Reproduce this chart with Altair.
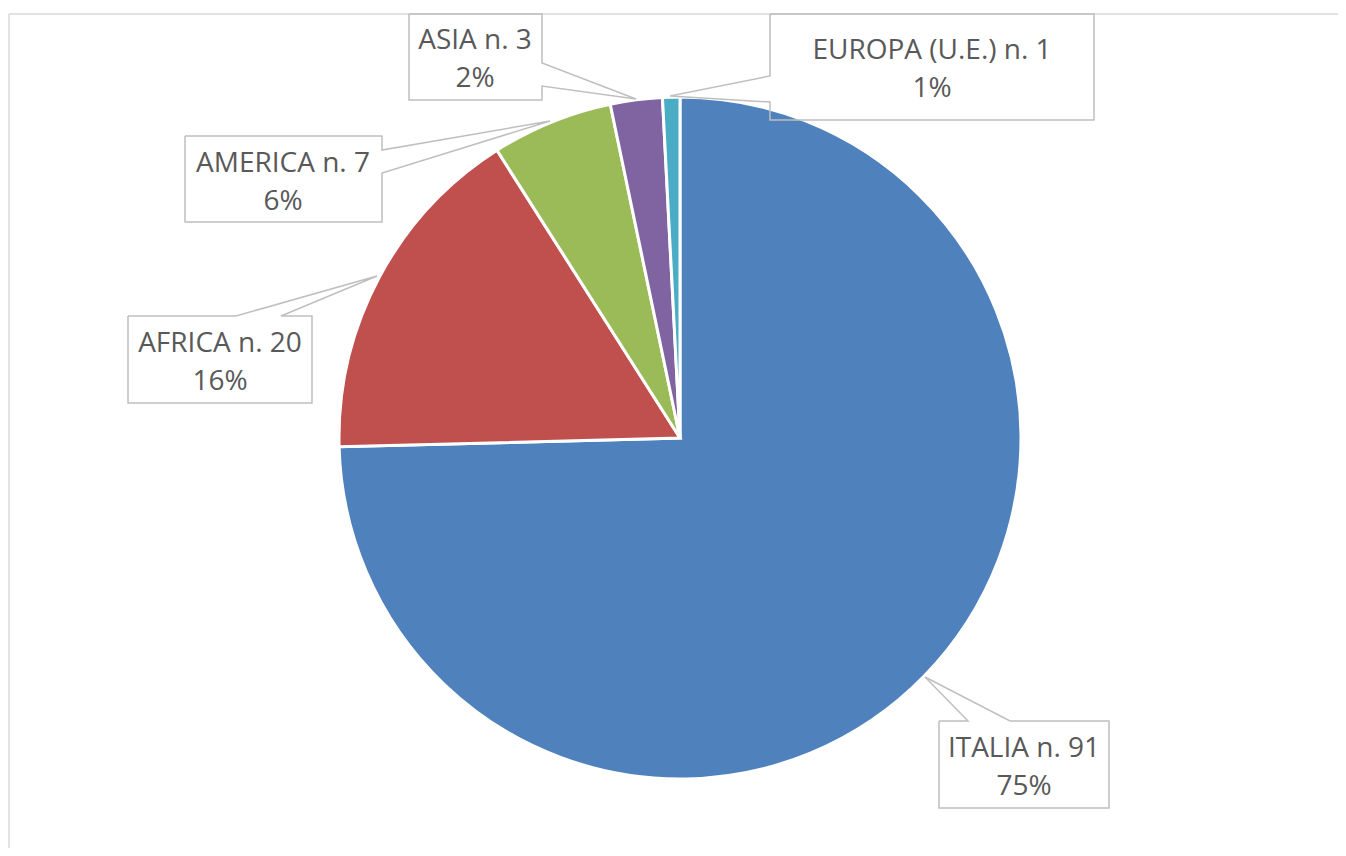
import altair as alt
import pandas as pd

# ---- data ----
categories = ["ITALIA", "AFRICA", "AMERICA", "ASIA", "EUROPA (U.E.)"]
counts = [91, 20, 7, 3, 1]
colors = ["#4F81BD", "#C0504D", "#9BBB59", "#8064A2", "#4BACC6"]

total = sum(counts)
pie_df = pd.DataFrame({
    "cat": categories,
    "n": counts,
    "idx": list(range(len(categories))),
})

# ---- layout (page coordinates, converted to chart coordinates below) ----
OFF = 8
PIE_CX, PIE_CY, PIE_R = 680, 438, 341
TEXT_COLOR = "#595959"
BOX_COLOR = "#BFBFBF"
FONT = "Open Sans"
FONT_SIZE = 28
LINE_GAP = 38

# label centre x and first-line baseline y
label_pos = {
    "ITALIA": (1024, 757),
    "AFRICA": (220, 352),
    "AMERICA": (283, 172),
    "ASIA": (475, 49),
    "EUROPA (U.E.)": (932, 59),
}
# callout outlines (box + pointer)
callouts = {
    "ITALIA": [(939, 721), (968, 721), (925, 677), (1010, 721), (1109, 721),
               (1109, 808), (939, 808), (939, 721)],
    "AFRICA": [(128, 316), (236, 316), (377, 276), (281, 316), (312, 316),
               (312, 403), (128, 403), (128, 316)],
    "AMERICA": [(185, 136), (382, 136), (382, 150), (550, 121), (382, 173),
                (382, 222), (185, 222), (185, 136)],
    "ASIA": [(409, 14), (542, 14), (542, 63), (636, 99), (542, 86),
             (542, 100), (409, 100), (409, 14)],
    "EUROPA (U.E.)": [(770, 14), (1094, 14), (1094, 120), (770, 120),
                      (770, 102), (670, 96), (770, 76), (770, 14)],
}

W, H = 1330, 840

# ---- build tables ----
rows = []
for cat, n in zip(categories, counts):
    cx, by = label_pos[cat]
    rows.append({
        "cat": cat,
        "line1": f"{cat} n. {n}",
        "line2": f"{round(100 * n / total)}%",
        "tx": cx - OFF,
        "ty1": by - OFF,
        "ty2": by - OFF + LINE_GAP,
    })
label_df = pd.DataFrame(rows)

pts = []
for cat, path in callouts.items():
    for i, (px, py) in enumerate(path):
        pts.append({"cat": cat, "i": i, "px": px - OFF, "py": py - OFF})
callout_df = pd.DataFrame(pts)

# ---- frame ----
frame_top = alt.Chart(pd.DataFrame({"a": [0]})).mark_rule(
    color="#D9D9D9", strokeWidth=1.5
).encode(x=alt.value(9 - OFF), x2=alt.value(W), y=alt.value(14 - OFF))
frame_left = alt.Chart(pd.DataFrame({"a": [0]})).mark_rule(
    color="#D9D9D9", strokeWidth=1.5
).encode(x=alt.value(9 - OFF), y=alt.value(14 - OFF), y2=alt.value(H))

# ---- pie ----
pie = alt.Chart(pie_df).mark_arc(
    outerRadius=PIE_R, stroke="white", strokeWidth=3
).encode(
    theta=alt.Theta("n:Q", stack=True),
    order=alt.Order("idx:Q"),
    color=alt.Color("cat:N", scale=alt.Scale(domain=categories, range=colors),
                    legend=None),
    x=alt.value(PIE_CX - OFF),
    y=alt.value(PIE_CY - OFF),
)

# ---- callouts ----
boxes = alt.Chart(callout_df).mark_line(
    color=BOX_COLOR, strokeWidth=1.5, strokeJoin="miter"
).encode(
    x=alt.X("px:Q", scale=None, axis=None),
    y=alt.Y("py:Q", scale=None, axis=None),
    detail="cat:N",
    order="i:Q",
)

text1 = alt.Chart(label_df).mark_text(
    font=FONT, fontSize=FONT_SIZE, color=TEXT_COLOR, align="center",
    baseline="alphabetic"
).encode(
    x=alt.X("tx:Q", scale=None, axis=None),
    y=alt.Y("ty1:Q", scale=None, axis=None),
    text="line1:N",
)
text2 = alt.Chart(label_df).mark_text(
    font=FONT, fontSize=FONT_SIZE, color=TEXT_COLOR, align="center",
    baseline="alphabetic"
).encode(
    x=alt.X("tx:Q", scale=None, axis=None),
    y=alt.Y("ty2:Q", scale=None, axis=None),
    text="line2:N",
)

chart = alt.layer(frame_top, frame_left, pie, boxes, text1, text2).properties(
    width=W, height=H, padding=0, autosize="none", background="white"
).configure_view(stroke=None)

chart.save("out.html", embed_options={"renderer": "svg", "actions": False})
